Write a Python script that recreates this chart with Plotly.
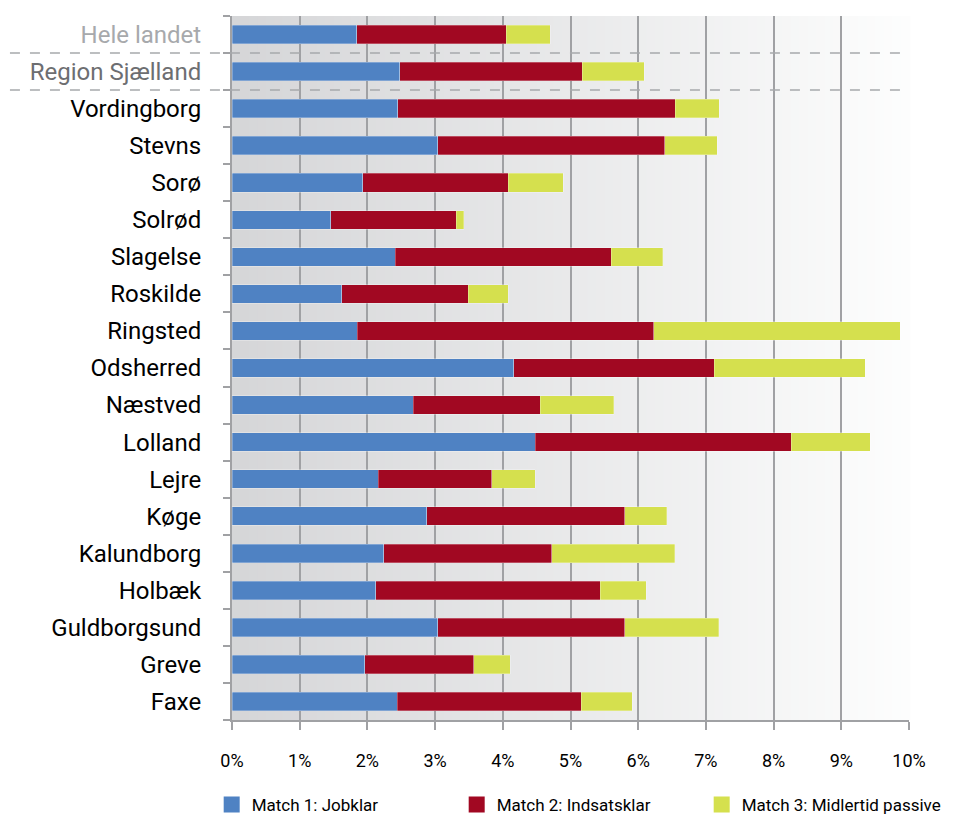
import plotly.graph_objects as go

categories = ["Hele landet", "Region Sjælland", "Vordingborg", "Stevns", "Sorø", "Solrød",
              "Slagelse", "Roskilde", "Ringsted", "Odsherred", "Næstved", "Lolland", "Lejre",
              "Køge", "Kalundborg", "Holbæk", "Guldborgsund", "Greve", "Faxe"]
match1 = [1.84, 2.48, 2.45, 3.04, 1.93, 1.46, 2.41, 1.62, 1.85, 4.16, 2.68, 4.48, 2.16, 2.88, 2.24, 2.12, 3.04, 1.96, 2.44]
match2 = [2.21, 2.69, 4.10, 3.35, 2.15, 1.85, 3.19, 1.87, 4.38, 2.96, 1.87, 3.78, 1.68, 2.92, 2.48, 3.32, 2.76, 1.61, 2.72]
match3 = [0.65, 0.92, 0.65, 0.78, 0.81, 0.11, 0.76, 0.59, 3.64, 2.23, 1.09, 1.17, 0.64, 0.62, 1.82, 0.68, 1.39, 0.54, 0.75]
series_names = ["Match 1: Jobklar", "Match 2: Indsatsklar", "Match 3: Midlertid passive"]
colors = ["#4f82c3", "#a10822", "#d5e04e"]
x_ticks = list(range(0, 11))
x_ticklabels = [f"{v}%" for v in x_ticks]

label_colors = {"Hele landet": "#a7a9ac", "Region Sjælland": "#6d6e71"}
ticktext = [f'<span style="color:{label_colors[c]}">{c}</span>' if c in label_colors else c for c in categories]

fig = go.Figure()
for name, vals, col in zip(series_names, [match1, match2, match3], colors):
    fig.add_trace(go.Bar(
        y=categories, x=[v / 100 for v in vals], name=name, orientation="h",
        marker=dict(color=col, line=dict(width=0.8, color="rgba(255,255,255,0.35)")),
        showlegend=False,
    ))
for name, col in zip(series_names, colors):
    fig.add_trace(go.Scatter(
        x=[None], y=[None], mode="markers", name=name,
        marker=dict(symbol="square", size=16, color=col),
        showlegend=True,
    ))

# gradient background strips
shapes = []
n = 80
c0 = (213, 214, 216)
c1 = (253, 253, 253)
for i in range(n):
    t = i / (n - 1)
    r = round(c0[0] + (c1[0] - c0[0]) * t)
    g = round(c0[1] + (c1[1] - c0[1]) * t)
    b = round(c0[2] + (c1[2] - c0[2]) * t)
    shapes.append(dict(type="rect", xref="x domain", yref="y domain",
                       x0=i / n, x1=(i + 1) / n + 0.002, y0=0, y1=1,
                       fillcolor=f"rgb({r},{g},{b})", line=dict(width=0), layer="below"))
# dashed separators
for yv in [0.5, 1.5]:
    shapes.append(dict(type="line", xref="paper", yref="y", x0=-0.328, x1=1, y0=yv, y1=yv,
                       line=dict(color="#a7a9ac", width=1.5, dash="10px,10px"), layer="above"))

fig.update_layout(
    barmode="stack",
    bargap=0.5,
    width=956, height=809,
    margin=dict(l=224, r=55, t=8, b=97, autoexpand=False),
    paper_bgcolor="white",
    plot_bgcolor="rgba(0,0,0,0)",
    shapes=shapes,
    font=dict(family="Roboto, sans-serif", color="#000"),
    legend=dict(orientation="h", x=-0.03, xanchor="left", y=-0.095, yanchor="top",
                traceorder="normal", entrywidth=200, entrywidthmode="pixels",
                font=dict(size=17, color="#000"), itemwidth=30, tracegroupgap=0,
                bgcolor="rgba(0,0,0,0)"),
)
fig.update_xaxes(
    range=[0, 0.1], tickvals=[v / 100 for v in x_ticks], ticktext=x_ticklabels,
    showgrid=True, gridcolor="#a0a1a4", gridwidth=2,
    showline=True, linecolor="#a0a1a4", linewidth=2,
    ticks="outside", ticklen=8, tickwidth=2, tickcolor="#a0a1a4",
    ticklabelstandoff=15, tickfont=dict(size=18, color="#000"),
    zeroline=False, fixedrange=True,
)
fig.update_yaxes(
    categoryorder="array", categoryarray=categories, autorange="reversed",
    tickvals=categories, ticktext=ticktext,
    showline=True, linecolor="#a0a1a4", linewidth=2,
    ticks="outside", ticklen=7, tickwidth=2, tickcolor="#a0a1a4", tickson="boundaries",
    ticklabelstandoff=24, tickfont=dict(size=24, color="#000"),
    showgrid=False, fixedrange=True,
)

fig.write_html("out.html")
